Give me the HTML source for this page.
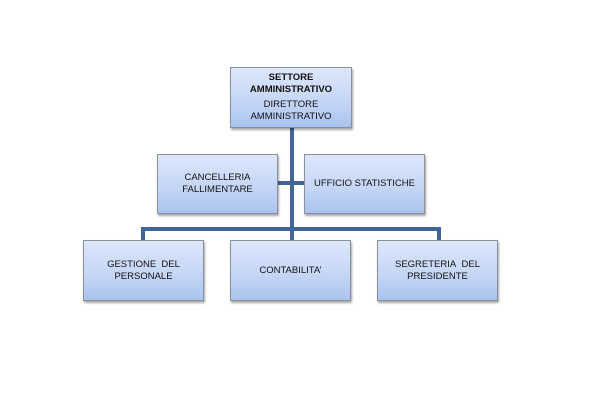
<!DOCTYPE html>
<html><head><style>
body{margin:0;width:600px;height:400px;background:#fff;position:relative;overflow:hidden;font-family:"Liberation Sans",sans-serif;}
.b{position:absolute;box-sizing:border-box;border:1px solid #8a8f99;background:linear-gradient(#dde7fb,#c3d5f6 60%,#a9c3ef);box-shadow:1px 2px 2px rgba(0,0,0,0.35);display:flex;flex-direction:column;align-items:center;justify-content:center;text-align:center;font-size:9.5px;color:#111;line-height:12px;}
.l{position:absolute;background:#41679a;}
</style></head><body>
<div class="l" style="left:290px;top:128px;width:4px;height:112px"></div>
<div class="l" style="left:278px;top:181px;width:26px;height:4px"></div>
<div class="l" style="left:141px;top:227px;width:300px;height:4px"></div>
<div class="l" style="left:141px;top:227px;width:4px;height:13px"></div>
<div class="l" style="left:437px;top:227px;width:4px;height:13px"></div>
<div class="b" style="left:230px;top:67px;width:122px;height:61px"><b>SETTORE<br>AMMINISTRATIVO</b><div style="margin-top:3px">DIRETTORE<br>AMMINISTRATIVO</div></div>
<div class="b" style="left:157px;top:154px;width:121px;height:60px">CANCELLERIA<br>FALLIMENTARE</div>
<div class="b" style="left:304px;top:154px;width:121px;height:60px">UFFICIO STATISTICHE</div>
<div class="b" style="left:83px;top:240px;width:121px;height:61px">GESTIONE&nbsp; DEL<br>PERSONALE</div>
<div class="b" style="left:230px;top:240px;width:121px;height:61px">CONTABILITA’</div>
<div class="b" style="left:377px;top:240px;width:121px;height:61px">SEGRETERIA&nbsp; DEL<br>PRESIDENTE</div>
</body></html>
